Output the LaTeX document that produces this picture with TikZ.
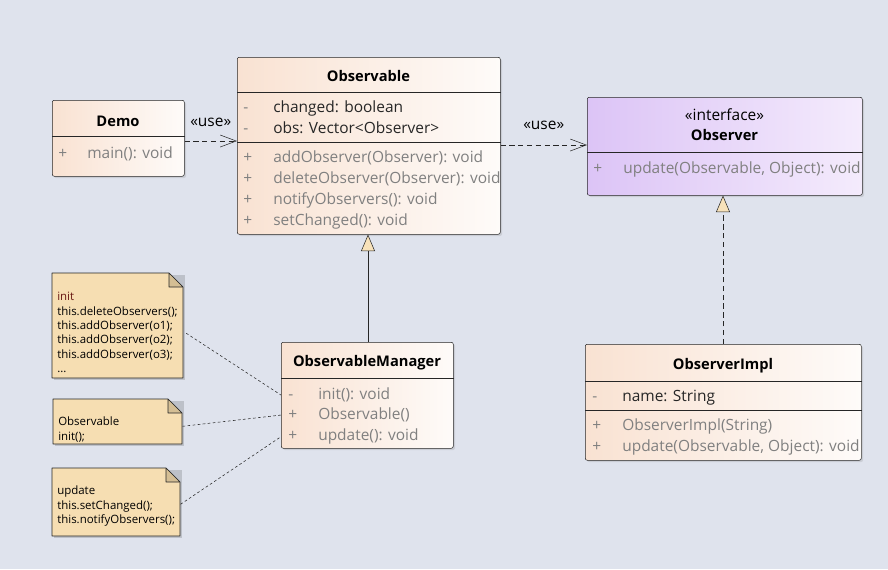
\documentclass[tikz,border=0pt]{standalone}
\usepackage{fontspec}
\setmainfont{Open Sans}
\usetikzlibrary{arrows.meta,calc,positioning,shadows}
\definecolor{bgc}{RGB}{223,227,237}
\definecolor{clsL}{RGB}{249,226,210}
\definecolor{clsR}{RGB}{254,251,249}
\definecolor{ifcL}{RGB}{220,196,246}
\definecolor{ifcR}{RGB}{244,235,252}
\definecolor{notefill}{RGB}{246,222,178}
\definecolor{notefold}{RGB}{212,190,148}
\definecolor{tipfill}{RGB}{248,226,186}
\definecolor{opgray}{RGB}{128,128,128}
\definecolor{attrc}{RGB}{38,38,38}
\definecolor{initc}{RGB}{105,25,20}
\newcommand{\mfont}{\fontsize{11.6}{13}\selectfont}
\tikzset{
  cls/.style={draw=black!85,rounded corners=1.5pt,left color=clsL,right color=clsR,
    drop shadow={shadow xshift=1.3pt,shadow yshift=-1.3pt,opacity=.22},anchor=north west,inner sep=0},
  ifc/.style={cls,left color=ifcL,right color=ifcR},
  ttl/.style={font=\fontsize{11}{13}\selectfont\bfseries,inner sep=0},
  vis/.style={anchor=mid west,inner sep=0,text=opgray,font=\mfont,yshift=-1.6pt},
  attr/.style={anchor=mid west,inner sep=0,text=attrc,font=\mfont,yshift=-1.6pt},
  oper/.style={anchor=mid west,inner sep=0,text=opgray,font=\mfont,yshift=-1.6pt},
  lbl/.style={font=\mfont,inner sep=0},
  dep/.style={draw=black!85,dash pattern=on 4pt off 2.6pt,-{Straight Barb[length=12pt,width=9pt]}},
  real/.style={draw=black!85,dash pattern=on 4pt off 2.6pt,-{Triangle[length=12.5pt,width=10.5pt,fill=tipfill]}},
  gen/.style={draw=black!85,-{Triangle[length=12.5pt,width=10.5pt,fill=tipfill]}},
  anch/.style={draw=black!85,dash pattern=on 2pt off 1.8pt},
  notebox/.style={anchor=north west,inner sep=0},
  notetxt/.style={anchor=north west,align=left,inner sep=0,font=\fontsize{8.6}{10.8}\selectfont}
}
\begin{document}
\begin{tikzpicture}[x=0.75pt,y=-0.75pt,line join=round]
\fill[bgc] (0,0) rectangle (888,569);
\useasboundingbox (0,0) rectangle (888,569);
% --- Demo
\node[cls,minimum width=99pt,minimum height=57pt] (demo) at (52,100) {};
\draw[black!85] (demo.west |- 0,136) -- (demo.east |- 0,136);
\node[ttl] (demoT) at (118,121) {Demo};
\node[vis] (demoV1) at (58,153) {+};
\node[oper] (demoM1) at (87,153) {main(): void};
% --- Observable
\node[cls,minimum width=197.25pt,minimum height=132.75pt] (obs) at (237,57) {};
\draw[black!85] (obs.west |- 0,92) -- (obs.east |- 0,92) (obs.west |- 0,142) -- (obs.east |- 0,142);
\node[ttl] (obsT) at (368.5,76) {Observable};
\foreach \t/\y [count=\i] in {changed: boolean/107,{obs: Vector<Observer>}/128} {
  \node[vis] (obsV\i) at (243,\y) {-};
  \node[attr] (obsA\i) at (273,\y) {\t};
}
\foreach \t/\y [count=\i] in {addObserver(Observer): void/157,deleteObserver(Observer): void/178,notifyObservers(): void/199,setChanged(): void/220} {
  \node[vis] (obsW\i) at (243,\y) {+};
  \node[oper] (obsM\i) at (273,\y) {\t};
}
% --- Observer interface
\node[ifc,minimum width=206.25pt,minimum height=73.5pt] (obsv) at (587,97) {};
\draw[black!85] (obsv.west |- 0,152) -- (obsv.east |- 0,152);
\node[lbl] (obsvS) at (724.5,115) {«interface»};
\node[ttl] (obsvT) at (724.5,135) {Observer};
\node[vis] (obsvV1) at (593,168) {+};
\node[oper] (obsvM1) at (623,168) {update(Observable, Object): void};
% --- ObservableManager
\node[cls,minimum width=129pt,minimum height=79.5pt] (mgr) at (281,342) {};
\draw[black!85] (mgr.west |- 0,378) -- (mgr.east |- 0,378);
\node[ttl] (mgrT) at (367,363) {ObservableManager};
\foreach \v/\t/\y [count=\i] in {-/init(): void/394,+/Observable()/414,+/update(): void/435} {
  \node[vis] (mgrV\i) at (288,\y) {\v};
  \node[oper] (mgrM\i) at (318,\y) {\t};
}
% --- ObserverImpl
\node[cls,minimum width=207pt,minimum height=87pt] (impl) at (585,344) {};
\draw[black!85] (impl.west |- 0,381) -- (impl.east |- 0,381) (impl.west |- 0,410) -- (impl.east |- 0,410);
\node[ttl] (implT) at (723,366) {ObserverImpl};
\node[vis] (implV1) at (592,396) {-};
\node[attr] (implA1) at (622,396) {name: String};
\foreach \t/\y [count=\i] in {ObserverImpl(String)/425,{update(Observable, Object): void}/446} {
  \node[vis] (implW\i) at (592,\y) {+};
  \node[oper] (implM\i) at (622,\y) {\t};
}
% --- notes
\foreach \n/\xa/\ya/\xb/\yb in {n1/52/273/183/378,n2/53/399/182/444,n3/52/468/180/536} {
  \path (\xa,\ya) coordinate (\n nw) (\xb,\yb) coordinate (\n se);
  \fill[black,opacity=.15] ($(\n nw)+(2,2)$) rectangle ($(\n se)+(2,2)$);
  \draw[black!85,fill=notefill] (\n nw) -- (\xb-14,\ya) -- (\xb,\ya+14) -- (\n se) -- (\xa,\yb) -- cycle;
  \draw[black!85,fill=notefold] (\xb-14,\ya) -- (\xb-14,\ya+14) -- (\xb,\ya+14) -- cycle;
  \node[notebox,minimum width=(\xb-\xa)*0.75pt,minimum height=(\yb-\ya)*0.75pt] (\n) at (\n nw) {};
}
\node[notetxt] (n1T) at (57,292) {\textcolor{initc}{init}\\this.deleteObservers();\\this.addObserver(o1);\\this.addObserver(o2);\\this.addObserver(o3);\\...};
\node[notetxt] (n2T) at (58,417) {Observable\\init();};
\node[notetxt] (n3T) at (57,486) {update\\this.setChanged();\\this.notifyObservers();};
% --- connectors
\draw[dep] (demo.east |- 0,141) -- (obs.west |- 0,141) node[lbl,midway,above=10.5pt] (use1) {«use»};
\draw[dep] (obs.east |- 0,145) -- (obsv.west |- 0,145) node[lbl,midway,above=11pt] (use2) {«use»};
\draw[gen] (mgr.north -| 368,0) -- (obs.south -| 368,0);
\draw[real] (impl.north -| 723,0) -- (obsv.south -| 723,0);
\draw[anch] ([xshift=2pt,yshift=-5.6pt]n1.east) -- (mgr.west |- mgrM1);
\draw[anch] ([yshift=-3.4pt]n2.east) -- (mgr.west |- mgrM2);
\draw[anch] ([yshift=-1.5pt]n3.east) -- (mgr.west |- mgrM3);
\end{tikzpicture}
\end{document}
